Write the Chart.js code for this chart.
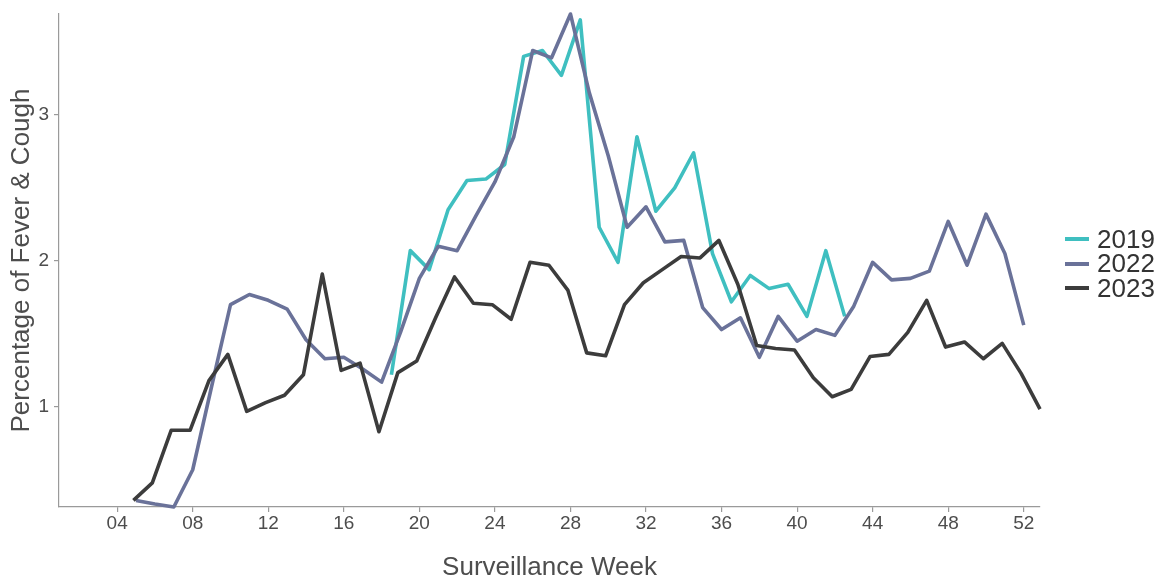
<!DOCTYPE html>
<html>
<head>
<meta charset="utf-8">
<script src="https://cdn.jsdelivr.net/npm/chart.js@4.4.0/dist/chart.umd.min.js"></script>
<style>
html,body{margin:0;padding:0;background:#fff;}
#wrap{position:relative;width:1159px;height:578px;}
#legend{position:absolute;left:1065px;top:227px;font-family:"Liberation Sans",Arial,sans-serif;font-size:26px;color:#333;}
.item{display:flex;align-items:center;height:24.5px;white-space:nowrap;}
.sw{width:24px;height:4px;margin-right:8px;flex:none;}
</style>
</head>
<body>
<div id="wrap"><canvas id="c" width="1159" height="578"></canvas><div id="legend"></div></div>
<script>
// ---- data ----
const seriesNames = ['2019', '2022', '2023'];
const weeks2019 = Array.from({length: 25}, (_, i) => 18 + i);
const weeks2022 = Array.from({length: 48}, (_, i) => 5 + i);
const weeks2023 = Array.from({length: 49}, (_, i) => 5 + i);
// date alignment of each year's surveillance weeks on the common axis (in weeks)
const weekShift = {'2019': 0.52, '2022': 0, '2023': -0.14};

const values2019 = [1.22, 2.07, 1.94, 2.35, 2.55, 2.56, 2.66, 3.40, 3.44, 3.27, 3.65, 2.23, 1.99,
                    2.85, 2.34, 2.50, 2.74, 2.05, 1.72, 1.90, 1.81, 1.84, 1.62, 2.07, 1.62];
const values2022 = [0.36, 0.335, 0.315, 0.57, 1.14, 1.70, 1.77, 1.73, 1.67, 1.46, 1.33, 1.34,
                    1.26, 1.17, 1.51, 1.88, 2.10, 2.07, 2.31, 2.54, 2.85, 3.44, 3.39, 3.69,
                    3.15, 2.72, 2.23, 2.37, 2.13, 2.14, 1.68, 1.53, 1.61, 1.34, 1.62, 1.45,
                    1.53, 1.49, 1.69, 1.99, 1.87, 1.88, 1.93, 2.27, 1.97, 2.32, 2.05, 1.56];
const values2023 = [0.36, 0.48, 0.84, 0.84, 1.18, 1.36, 0.97, 1.03, 1.08, 1.22, 1.91, 1.25,
                    1.30, 0.83, 1.235, 1.315, 1.61, 1.89, 1.71, 1.70, 1.60, 1.99, 1.97, 1.80,
                    1.37, 1.35, 1.70, 1.85, 1.94, 2.03, 2.02, 2.14, 1.84, 1.42, 1.40, 1.39,
                    1.20, 1.07, 1.12, 1.345, 1.36, 1.51, 1.73, 1.41, 1.445, 1.33, 1.435, 1.23, 0.985];

const xTickValues = [4, 8, 12, 16, 20, 24, 28, 32, 36, 40, 44, 48, 52];
const xTickLabels = ['04', '08', '12', '16', '20', '24', '28', '32', '36', '40', '44', '48', '52'];
const yTickValues = [1, 2, 3];
const yTickLabels = ['1', '2', '3'];

const colors = {'2019': '#3fbfc0', '2022': '#6a7299', '2023': '#3c3c3c'};
const axisStart = 0.92;

// ---- build ----
const weeksBy = {'2019': weeks2019, '2022': weeks2022, '2023': weeks2023};
const valuesBy = {'2019': values2019, '2022': values2022, '2023': values2023};
const FONT = '"Liberation Sans", Arial, Helvetica, sans-serif';

const datasets = seriesNames.map((name, k) => ({
  label: name,
  data: weeksBy[name].map((w, i) => ({x: w + weekShift[name], y: valuesBy[name][i]})),
  borderColor: colors[name],
  backgroundColor: colors[name],
  borderWidth: 3.6,
  pointRadius: 0,
  tension: 0,
  fill: false,
  clip: 4,
  order: seriesNames.length - k,
  borderJoinStyle: 'round',
  borderCapStyle: 'butt'
}));

const allVals = values2019.concat(values2022, values2023);
const yMin = Math.min(...allVals), yMax = Math.max(...allVals);
const xMax = Math.max(...datasets.map(d => d.data[d.data.length - 1].x));

const axisColor = '#9a9a9a';
const tickColor = '#4d4d4d';

new Chart(document.getElementById('c'), {
  type: 'line',
  data: {datasets},
  options: {
    responsive: false,
    animation: false,
    layout: {padding: {left: 0, right: 119, top: 14, bottom: 0}},
    plugins: {legend: {display: false}, tooltip: {enabled: false}},
    scales: {
      x: {
        type: 'linear',
        min: axisStart,
        max: xMax,
        afterBuildTicks: s => { s.ticks = xTickValues.map(v => ({value: v})); },
        ticks: {
          autoSkip: false, maxRotation: 0, padding: 0,
          font: {family: FONT, size: 19}, color: tickColor,
          callback: (v, i) => xTickLabels[i]
        },
        grid: {drawOnChartArea: false, drawTicks: true, tickLength: 5, color: axisColor, lineWidth: 1.2},
        border: {display: true, color: axisColor, width: 1.2},
        title: {display: true, text: 'Surveillance Week', color: tickColor,
                font: {family: FONT, size: 26, lineHeight: 1}, padding: {top: 0, bottom: -3}},
        afterFit: s => { s.height = 71; s.paddingLeft = 0; s.paddingRight = 0; }
      },
      y: {
        type: 'linear',
        min: yMin,
        max: yMax,
        afterBuildTicks: s => { s.ticks = yTickValues.map(v => ({value: v})); },
        ticks: {
          padding: 5, font: {family: FONT, size: 19}, color: tickColor,
          callback: (v, i) => yTickLabels[i]
        },
        grid: {drawOnChartArea: false, drawTicks: true, tickLength: 5, color: axisColor, lineWidth: 1.2},
        border: {display: true, color: axisColor, width: 1.2},
        title: {display: true, text: 'Percentage of Fever & Cough', color: tickColor,
                font: {family: FONT, size: 26, lineHeight: 1}, padding: {top: 9, bottom: 0}},
        afterFit: s => { s.width = 59; s.paddingTop = 0; s.paddingBottom = 0; }
      }
    }
  }
});

// legend (HTML, real text)
const lg = document.getElementById('legend');
seriesNames.forEach(name => {
  const row = document.createElement('div');
  row.className = 'item';
  const sw = document.createElement('span');
  sw.className = 'sw';
  sw.style.background = colors[name];
  const tx = document.createElement('span');
  tx.textContent = name;
  row.appendChild(sw); row.appendChild(tx);
  lg.appendChild(row);
});
</script>
</body>
</html>
